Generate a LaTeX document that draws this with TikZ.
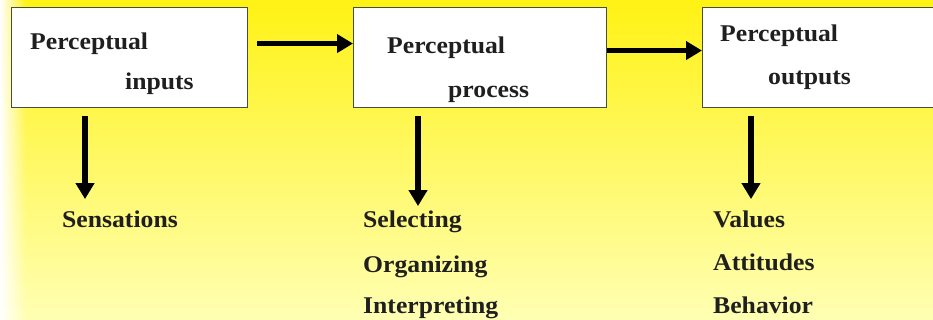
\documentclass[tikz,border=0pt]{standalone}
\usepackage{fontspec}
\setmainfont{Liberation Serif}[FakeStretch=1.07]
\usetikzlibrary{arrows.meta,fadings}
\definecolor{ytop}{RGB}{255,242,20}
\definecolor{ymid}{RGB}{255,248,85}
\definecolor{ybot}{RGB}{255,255,180}
\definecolor{rim}{RGB}{70,78,60}
\tikzset{
  box/.style={draw=rim, line width=1.1pt, fill=white, inner sep=0pt, anchor=north west},
  lbl/.style={anchor=base west, inner sep=0pt, font=\fontsize{24}{28}\selectfont\bfseries, text=black!88},
  flow/.style={line width=5.5pt, -{Triangle[length=16pt,width=18pt]}},
}
\begin{document}
\begin{tikzpicture}[x=1pt,y=-1pt]
\useasboundingbox (0,0) rectangle (933,320);
\clip (0,0) rectangle (933,320);
% background: yellow fading downwards, white along the left edge
\shade[top color=ytop, middle color=ymid, bottom color=ybot] (0,0) rectangle (933,320);
\fill[white, path fading=east] (0,0) rectangle (26,320);

% the three stages
\node[box, minimum width=236pt, minimum height=100pt] (inbox)   at (11,7)  {};
\node[box, minimum width=253pt, minimum height=100pt] (procbox) at (353,7) {};
\node[box, minimum width=240pt, minimum height=100pt] (outbox)  at (702,7) {};

\node[lbl] (in1)   at (30,50)  {Perceptual};
\node[lbl] (in2)   at (125,90) {inputs};
\node[lbl] (proc1) at (387,54) {Perceptual};
\node[lbl] (proc2) at (448,98) {process};
\node[lbl] (out1)  at (720,42) {Perceptual};
\node[lbl] (out2)  at (768,85) {outputs};

% what each stage involves
\node[lbl] (sens) at (62,228)  {Sensations};
\node[lbl] (sel)  at (363,228) {Selecting};
\node[lbl] (org)  at (363,272) {Organizing};
\node[lbl] (intp) at (363,313) {Interpreting};
\node[lbl] (val)  at (713,228) {Values};
\node[lbl] (att)  at (713,270) {Attitudes};
\node[lbl] (beh)  at (713,313) {Behavior};

% flow between stages
\draw[flow] ([xshift=9pt,yshift=14pt]inbox.east) -- ([yshift=14pt]procbox.west);
\draw[flow] ([yshift=7pt]procbox.east) -- ([yshift=7pt]outbox.west);

% arrows down to the details
\draw[flow] ([xshift=74pt,yshift=-8pt]inbox.south west) -- ++(0,83);
\draw[flow] ([xshift=65pt,yshift=-8pt]procbox.south west) -- ++(0,90);
\draw[flow] ([xshift=49pt,yshift=-8pt]outbox.south west) -- ++(0,83);
\end{tikzpicture}
\end{document}
